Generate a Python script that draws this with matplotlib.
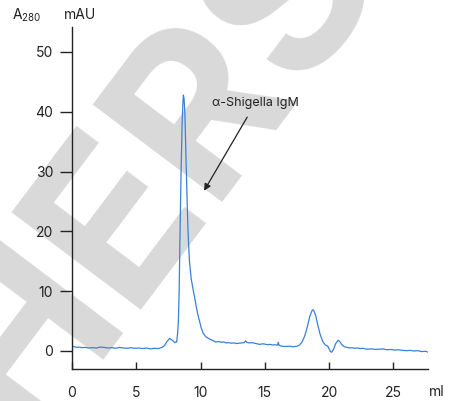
import matplotlib
matplotlib.use('Agg')
import matplotlib.pyplot as plt

# elution volume (ml) and absorbance (mAU)
volume_ml = [0, 0.2, 0.4, 0.6, 0.8, 1.0, 1.3, 1.6, 1.9, 2.2, 2.5, 2.8, 3.1, 3.4,
             3.7, 4.0, 4.3, 4.6, 4.9, 5.2, 5.5, 5.8, 6.1, 6.4, 6.7, 7.0, 7.2,
             7.4, 7.6, 7.8, 8.0, 8.1, 8.15, 8.22, 8.28, 8.34, 8.41, 8.49, 8.57,
             8.63, 8.67, 8.72, 8.78, 8.84, 8.9, 8.96, 9.03, 9.14, 9.28, 9.45,
             9.6, 9.75, 9.92, 10.05, 10.2, 10.4, 10.7, 11.0, 11.2, 11.4, 11.6,
             11.8, 12.0, 12.2, 12.4, 12.6, 12.8, 13.0, 13.2, 13.4, 13.5, 13.6,
             13.8, 14.0, 14.2, 14.4, 14.6, 14.8, 15.0, 15.2, 15.4, 15.6, 15.8,
             16.0, 16.05, 16.1, 16.3, 16.6, 16.9, 17.2, 17.5, 17.7, 17.9, 18.1,
             18.3, 18.5, 18.7, 18.8, 18.95, 19.1, 19.3, 19.5, 19.7, 19.9, 20.1,
             20.2, 20.35, 20.5, 20.7, 20.85, 21.0, 21.2, 21.4, 21.6, 21.8, 22.0,
             22.2, 22.4, 22.6, 22.8, 23.0, 23.3, 23.6, 23.9, 24.2, 24.5, 24.8,
             25.1, 25.4, 25.7, 26.0, 26.3, 26.6, 26.9, 27.2, 27.5, 27.7]
absorbance = [0.8, 0.7, 0.6, 0.65, 0.55, 0.6, 0.5, 0.55, 0.5, 0.65, 0.6, 0.5, 0.55, 0.45,
              0.6, 0.5, 0.45, 0.55, 0.45, 0.5, 0.4, 0.5, 0.35, 0.45, 0.4, 0.6, 0.9,
              1.6, 2.1, 1.8, 1.4, 1.5, 1.5, 3.0, 5.0, 10.0, 20.0, 30.0, 38.0,
              41.5, 42.8, 42.2, 40.0, 35.0, 30.0, 25.0, 20.0, 15.0, 12.0, 10.0,
              8.3, 6.5, 5.0, 3.9, 3.0, 2.4, 2.0, 1.7, 1.5, 1.6, 1.45,
              1.5, 1.35, 1.4, 1.3, 1.35, 1.25, 1.3, 1.35, 1.4, 1.7, 1.45,
              1.35, 1.4, 1.3, 1.2, 1.1, 1.2, 1.15, 1.05, 1.1, 1.0, 1.05,
              0.95, 1.45, 1.0, 0.8, 0.75, 0.8, 0.7, 0.8, 1.0, 1.5, 2.5,
              4.0, 5.8, 6.9, 6.8, 6.0, 4.5, 2.8, 1.6, 1.0, 0.8, -0.1,
              -0.2, 0.3, 1.2, 1.8, 1.5, 1.0, 0.7, 0.6, 0.5, 0.55, 0.45,
              0.5, 0.4, 0.45, 0.35, 0.3, 0.35, 0.25, 0.3, 0.35, 0.2, 0.25,
              0.15, 0.2, 0.1, 0.05, 0.1, 0.0, 0.05, -0.1, -0.05, -0.2]

x_ticks = [0, 5, 10, 15, 20, 25]
y_ticks = [0, 10, 20, 30, 40, 50]

plt.rcParams['font.family'] = ['Inter', 'DejaVu Sans']

fig = plt.figure(figsize=(4.55, 4.01), dpi=100)

# faint watermark behind the chart
fig.text(0.258, 0.421, 'SHERS', fontsize=160, fontweight='bold', color='#d9d9d9',
         rotation=53, ha='center', va='center', zorder=-5)

ax = fig.add_axes([0.158, 0.08, 0.783, 0.853])
ax.set_facecolor('none')

ax.plot(volume_ml, absorbance, color='#3a80d9', linewidth=0.9)

ax.set_xlim(0, 27.7)
ax.set_ylim(-3, 54.2)
ax.set_xticks(x_ticks)
ax.set_yticks(y_ticks)

for side in ['top', 'right']:
    ax.spines[side].set_visible(False)
for side in ['left', 'bottom']:
    ax.spines[side].set_linewidth(1.0)
    ax.spines[side].set_color('#222222')

ax.tick_params(axis='y', direction='out', length=9, width=1, labelsize=10,
               colors='#222222', pad=4.5)
ax.tick_params(axis='x', direction='in', length=5, width=1, labelsize=10,
               colors='#222222', pad=12)

ax.text(14.3, 41.5, '\u03b1-Shigella IgM', ha='center', va='center',
        fontsize=9, color='#222222')
ax.annotate('', xy=(10.28, 26.8), xytext=(13.63, 39.1),
            arrowprops=dict(arrowstyle='-|>', color='#222222', lw=0.9,
                            shrinkA=0, shrinkB=0, mutation_scale=10))

fig.text(27 / 455, 1 - 15 / 401, r'A$_{\mathregular{280}}$', fontsize=10,
         ha='center', va='center', color='#222222')
fig.text(80 / 455, 1 - 15 / 401, 'mAU', fontsize=10, ha='center', va='center',
         color='#222222')
fig.text(437 / 455, 1 - 392 / 401, 'ml', fontsize=10, ha='center', va='center',
         color='#222222')

fig.savefig('out.png', dpi=100)
